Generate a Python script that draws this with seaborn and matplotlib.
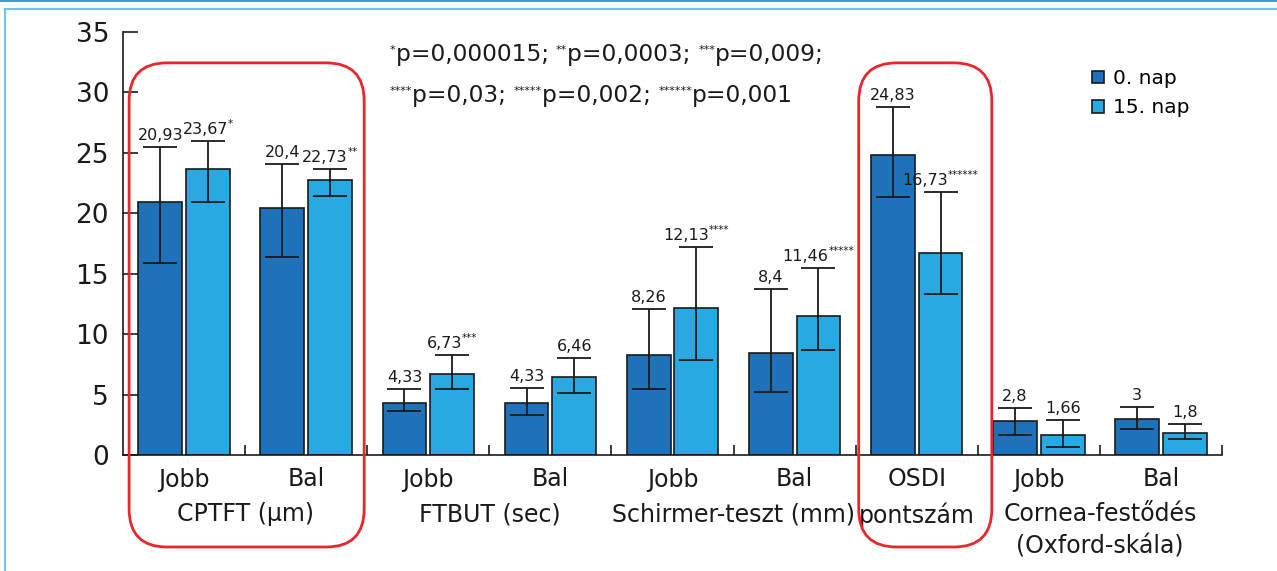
import matplotlib
matplotlib.use("Agg")
import matplotlib.pyplot as plt
import seaborn as sns
import pandas as pd
import numpy as np
from matplotlib.patches import FancyBboxPatch
from matplotlib.lines import Line2D
from matplotlib.transforms import IdentityTransform

# --- data ---
cat_ids = ["CPTFT Jobb", "CPTFT Bal", "FTBUT Jobb", "FTBUT Bal", "Schirmer Jobb",
           "Schirmer Bal", "OSDI", "Cornea Jobb", "Cornea Bal"]
tick_labels = ["Jobb", "Bal", "Jobb", "Bal", "Jobb", "Bal", "OSDI", "Jobb", "Bal"]
days = ["0. nap", "15. nap"]

mean_0 = [20.93, 20.4, 4.33, 4.33, 8.26, 8.4, 24.83, 2.8, 3.0]
mean_15 = [23.67, 22.73, 6.73, 6.46, 12.13, 11.46, 16.73, 1.66, 1.8]

low_0 = [15.9, 16.4, 3.67, 3.31, 5.43, 5.24, 21.34, 1.65, 2.15]
high_0 = [25.46, 24.04, 5.46, 5.54, 12.08, 13.7, 28.78, 3.91, 3.97]
low_15 = [20.95, 21.47, 5.43, 5.15, 7.86, 8.68, 13.32, 0.69, 1.3]
high_15 = [25.95, 23.7, 8.24, 8.02, 17.23, 15.44, 21.78, 2.92, 2.59]

label_0 = ["20,93", "20,4", "4,33", "4,33", "8,26", "8,4", "24,83", "2,8", "3"]
stars_0 = ["", "", "", "", "", "", "", "", ""]
label_15 = ["23,67", "22,73", "6,73", "6,46", "12,13", "11,46", "16,73", "1,66", "1,8"]
stars_15 = ["*", "**", "***", "", "****", "*****", "******", "", ""]

group_names = ["CPTFT (μm)", "FTBUT (sec)", "Schirmer-teszt (mm)", "pontszám",
               "Cornea-festődés", "(Oxford-skála)"]
group_pos = [0.5, 2.5, 4.5, 6, 7.5, 7.5]
group_row = [1, 1, 1, 1, 1, 2]

p_stars = ["*", "**", "***", "****", "*****", "******"]
p_values = ["0,000015", "0,0003", "0,009", "0,03", "0,002", "0,001"]

DARK = "#1f72b9"
LIGHT = "#29a9e1"
RED = "#e8262c"
INK = "#1a1a1a"

W, H = 1277, 571
fig = plt.figure(figsize=(W / 100, H / 100), dpi=100)
ax = fig.add_axes([123 / W, 1 - 455 / H, (1222 - 123) / W, (455 - 32) / H])

df = pd.DataFrame({
    "cat": cat_ids * 2,
    "day": [days[0]] * len(cat_ids) + [days[1]] * len(cat_ids),
    "value": mean_0 + mean_15,
})

sns.barplot(data=df, x="cat", y="value", hue="day", order=cat_ids, hue_order=days,
            palette=[DARK, LIGHT], saturation=1, width=0.78, gap=0.08,
            edgecolor=INK, linewidth=1.2, errorbar=None, ax=ax)

# error bars
for cont, m, lo, hi in [(ax.containers[0], mean_0, low_0, high_0),
                        (ax.containers[1], mean_15, low_15, high_15)]:
    xs = [b.get_x() + b.get_width() / 2 for b in cont]
    m = np.array(m)
    ax.errorbar(xs, m, yerr=[m - np.array(lo), np.array(hi) - m], fmt="none",
                ecolor=INK, elinewidth=1.3, capsize=12, capthick=1.3, zorder=5)

ax.set_xlim(-0.5, 8.5)
ax.set_ylim(0, 35)
ax.set_yticks(range(0, 36, 5))
ax.set_xticks(range(len(cat_ids)))
ax.set_xticklabels(tick_labels)
ax.set_xticks(np.arange(0.5, 9, 1), minor=True)
ax.set_xlabel("")
ax.set_ylabel("")
for s in ["top", "right"]:
    ax.spines[s].set_visible(False)
for s in ["left", "bottom"]:
    ax.spines[s].set_color(INK)
    ax.spines[s].set_linewidth(1.2)
ax.tick_params(axis="y", direction="in", length=11, width=1.2, labelsize=19,
               pad=10, colors=INK)
ax.tick_params(axis="x", which="major", length=0, labelsize=17, pad=9, colors=INK)
ax.tick_params(axis="x", which="minor", direction="in", length=7, width=1.2,
               color=INK)

for name, pos, row in zip(group_names, group_pos, group_row):
    ax.annotate(name, xy=(pos, 0), xycoords=("data", "axes fraction"),
                xytext=(0, -34 - 23 * (row - 1)), textcoords="offset points",
                ha="center", va="top", fontsize=17, color=INK)

handles, labels = ax.get_legend_handles_labels()
ax.legend(handles, labels, loc="upper left", bbox_to_anchor=(0.8725, 0.936),
          frameon=False, fontsize=14.5, handlelength=0.6, handleheight=0.6,
          handletextpad=0.45, labelspacing=0.5, borderpad=0)

fig.canvas.draw()
renderer = fig.canvas.get_renderer()


def put_pieces(x, y, pieces, ha="center"):
    # pieces: (text, fontsize, rise in px); x, y in pixels (display)
    items = []
    for s, size, rise in pieces:
        if not s:
            continue
        t = fig.text(0, 0, s, fontsize=size, color=INK, ha="left", va="baseline",
                     transform=IdentityTransform())
        w = t.get_window_extent(renderer).width
        items.append((t, w, rise))
    total = sum(w for _, w, _ in items)
    cx = x - total / 2 if ha == "center" else x
    for t, w, rise in items:
        t.set_position((cx, y + rise))
        cx += w


# value labels above error bars
for cont, hi, labs, sts in [(ax.containers[0], high_0, label_0, stars_0),
                            (ax.containers[1], high_15, label_15, stars_15)]:
    for b, h, lab, st in zip(cont, hi, labs, sts):
        xd, yd = ax.transData.transform((b.get_x() + b.get_width() / 2, h))
        put_pieces(xd, yd + 7, [(lab, 11.5, 0), (st, 7.5, 7)])

# p-value note
line1, line2 = [], []
for i, (st, pv) in enumerate(zip(p_stars, p_values)):
    sep = "; " if i not in (2, 5) else (";" if i == 2 else "")
    target = line1 if i < 3 else line2
    target += [(st, 8, 8), ("p=" + pv + sep, 16.8, 0)]
put_pieces(390, H - 61, line1, ha="left")
put_pieces(390, H - 102, line2, ha="left")

# red rounded boxes (data x, axes-fraction y)
for x0, x1 in [(-0.45, 1.475), (5.525, 6.615)]:
    px0 = ax.transData.transform((x0, 0))[0]
    px1 = ax.transData.transform((x1, 0))[0]
    py0 = ax.transAxes.transform((0, -0.2175))[1]
    py1 = ax.transAxes.transform((0, 0.927))[1]
    box = FancyBboxPatch((px0, py0), px1 - px0, py1 - py0,
                         boxstyle="round,pad=0,rounding_size=38",
                         transform=IdentityTransform(), fill=False,
                         edgecolor=RED, linewidth=2, zorder=10)
    fig.add_artist(box)

# frame lines of the figure panel
fig.add_artist(Line2D([0, 1], [1 - 0.6 / H, 1 - 0.6 / H], transform=fig.transFigure,
                      color="#0b8fd0", linewidth=1.2))
fig.add_artist(Line2D([4.5 / W, 1], [1 - 8.5 / H, 1 - 8.5 / H], transform=fig.transFigure,
                      color="#6cc5e4", linewidth=1.5))
fig.add_artist(Line2D([4.5 / W, 4.5 / W], [0, 1 - 8.5 / H], transform=fig.transFigure,
                      color="#6cc5e4", linewidth=1.5))

fig.savefig("out.png", dpi=100, facecolor="white")
